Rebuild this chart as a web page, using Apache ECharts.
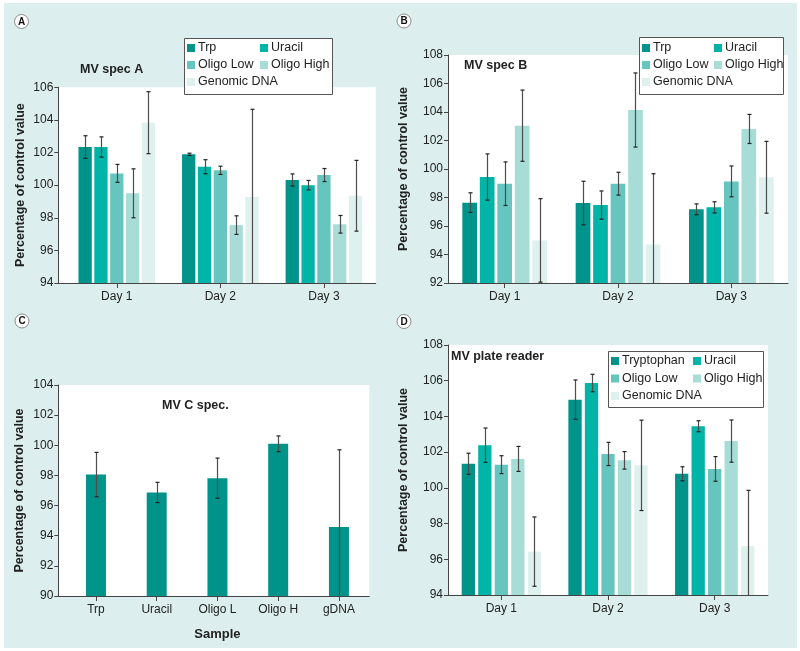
<!DOCTYPE html>
<html><head><meta charset="utf-8">
<script src="https://cdn.jsdelivr.net/npm/echarts@6/dist/echarts.min.js"></script>
<style>html,body{margin:0;padding:0;background:#fff}#c{width:800px;height:651px}</style>
</head><body><div id="c"></div>
<script>
// ---------- data ----------
var days = ['Day 1', 'Day 2', 'Day 3'];
var samplesC = ['Trp', 'Uracil', 'Oligo L', 'Oligo H', 'gDNA'];
var namesAB = ['Trp', 'Uracil', 'Oligo Low', 'Oligo High', 'Genomic DNA'];
var namesD = ['Tryptophan', 'Uracil', 'Oligo Low', 'Oligo High', 'Genomic DNA'];
var colors = ['#00938a', '#00b4a7', '#66c6bf', '#a8dcd7', '#dff1ef'];

// Panel A: MV spec A (mean, error)
var A_trp = [102.34, 101.89, 100.32],  A_trp_err = [0.69, 0.07, 0.37];
var A_ura = [102.34, 101.13, 100.00],  A_ura_err = [0.62, 0.43, 0.29];
var A_olo = [100.72, 100.91, 100.62],  A_olo_err = [0.55, 0.25, 0.40];
var A_ohi = [99.50, 97.55, 97.60],     A_ohi_err = [1.50, 0.57, 0.54];
var A_gen = [103.83, 99.27, 99.35],    A_gen_err = [1.90, 5.38, 2.17];

// Panel B: MV spec B
var B_trp = [97.64, 97.61, 97.17],     B_trp_err = [0.69, 1.53, 0.38];
var B_ura = [99.44, 97.47, 97.31],     B_ura_err = [1.62, 0.99, 0.39];
var B_olo = [98.97, 98.97, 99.13],     B_olo_err = [1.53, 0.80, 1.08];
var B_ohi = [103.04, 104.14, 102.81],  B_ohi_err = [2.50, 2.60, 1.02];
var B_gen = [94.99, 94.71, 99.42],     B_gen_err = [2.93, 4.96, 2.52];

// Panel C: MV C spec.
var C_val = [98.06, 96.87, 97.82, 100.10, 94.58];
var C_err = [1.47, 0.67, 1.33, 0.52, 5.12];

// Panel D: MV plate reader
var D_trp = [101.35, 104.94, 100.79],  D_trp_err = [0.59, 1.10, 0.39];
var D_ura = [102.39, 105.87, 103.45],  D_ura_err = [0.96, 0.49, 0.31];
var D_olo = [101.30, 101.90, 101.06],  D_olo_err = [0.50, 0.65, 0.69];
var D_ohi = [101.62, 101.54, 102.62],  D_ohi_err = [0.70, 0.49, 1.18];
var D_gen = [96.43, 101.26, 96.74],    D_gen_err = [1.94, 2.53, 3.12];

// ---------- build ----------
var FONT = 'Liberation Sans, Arial, Helvetica, sans-serif';
var AXC = '#444';
var TXT = '#222';

function errData(vals, errs) {
  return vals.map(function (v, i) { return [i, v - errs[i], v + errs[i]]; });
}
function errRender(bw, gapRatio, n, idx) {
  return function (params, api) {
    var c = api.value(0), lo = api.value(1), hi = api.value(2);
    var pH = api.coord([c, hi]), pL = api.coord([c, lo]);
    var off = (idx - (n - 1) / 2) * bw * (1 + gapRatio);
    var x = Math.round(pH[0] + off) + 0.5;
    var cs = params.coordSys;
    var top = cs.y, bottom = cs.y + cs.height;
    var yH = Math.max(pH[1], top), yL = Math.min(pL[1], bottom);
    var st = { stroke: '#4d4d4d', lineWidth: 1.2 };
    var ch = [{ type: 'line', shape: { x1: x, y1: yH, x2: x, y2: yL }, style: st }];
    var cw = 2;
    if (pH[1] >= top) ch.push({ type: 'line', shape: { x1: x - cw, y1: yH, x2: x + cw, y2: yH }, style: { stroke: '#222', lineWidth: 1.2 } });
    if (pL[1] <= bottom) ch.push({ type: 'line', shape: { x1: x - cw, y1: yL, x2: x + cw, y2: yL }, style: { stroke: '#222', lineWidth: 1.2 } });
    return { type: 'group', children: ch };
  };
}

var grids = [
  { left: 58.3, top: 87.3, width: 317.4, height: 195.7, show: true, backgroundColor: '#fff', borderWidth: 0 }, // A back
  { left: 65, top: 87.3, width: 310.7, height: 195.7 },                                                       // A front
  { left: 448, top: 55, width: 340, height: 228, show: true, backgroundColor: '#fff', borderWidth: 0 },        // B
  { left: 58.3, top: 385, width: 311, height: 211, show: true, backgroundColor: '#fff', borderWidth: 0 },      // C back
  { left: 65.6, top: 385, width: 303.7, height: 211 },                                                        // C front
  { left: 448, top: 345, width: 320, height: 250, show: true, backgroundColor: '#fff', borderWidth: 0 }        // D
];

function catAxis(gi, data, showLine, showLabels) {
  return {
    type: 'category', gridIndex: gi, data: data,
    axisLine: { show: showLine, lineStyle: { color: AXC, width: 1 } },
    axisTick: { show: showLabels, alignWithLabel: true, length: 5, lineStyle: { color: AXC } },
    axisLabel: { show: showLabels, color: TXT, fontSize: 12, fontFamily: FONT, margin: 8 },
    splitLine: { show: false }
  };
}
function valAxis(gi, min, max, show, nameGap) {
  return {
    type: 'value', gridIndex: gi, min: min, max: max, interval: 2, show: show,
    name: show ? 'Percentage of control value' : '',
    nameLocation: 'middle', nameGap: nameGap,
    nameTextStyle: { fontSize: 12.5, fontWeight: 'bold', color: TXT, fontFamily: FONT },
    axisLine: { show: true, lineStyle: { color: AXC, width: 1 } },
    axisTick: { show: true, length: 4, lineStyle: { color: AXC } },
    axisLabel: { color: TXT, fontSize: 12, fontFamily: FONT, margin: 5 },
    splitLine: { show: false }
  };
}

var xAxes = [
  catAxis(0, [''], true, false),
  catAxis(1, days, false, true),
  catAxis(2, days, true, true),
  catAxis(3, [''], true, false),
  catAxis(4, samplesC, false, true),
  catAxis(5, days, true, true)
];
xAxes[4].name = 'Sample';
xAxes[4].nameLocation = 'middle';
xAxes[4].nameGap = 32;
xAxes[4].nameTextStyle = { fontSize: 13, fontWeight: 'bold', color: TXT, fontFamily: FONT };

var yAxes = [
  valAxis(0, 94, 106, true, 31),
  valAxis(1, 94, 106, false, 0),
  valAxis(2, 92, 108, true, 38),
  valAxis(3, 90, 104, true, 32),
  valAxis(4, 90, 104, false, 0),
  valAxis(5, 94, 108, true, 38)
];

var series = [];
function addPanel(axisIdx, names, vals, errs, bw, gap) {
  var n = vals.length;
  for (var i = 0; i < n; i++) {
    series.push({
      type: 'bar', name: names[i], xAxisIndex: axisIdx, yAxisIndex: axisIdx,
      data: vals[i], barWidth: bw, barGap: (gap * 100) + '%',
      itemStyle: { color: colors[i] }, z: 2
    });
  }
  for (var j = 0; j < n; j++) {
    series.push({
      type: 'custom', name: 'err' + axisIdx + '_' + j, xAxisIndex: axisIdx, yAxisIndex: axisIdx,
      data: errData(vals[j], errs[j]), renderItem: errRender(bw, gap, n, j), z: 3, silent: true
    });
  }
}
addPanel(1, namesAB, [A_trp, A_ura, A_olo, A_ohi, A_gen], [A_trp_err, A_ura_err, A_olo_err, A_ohi_err, A_gen_err], 13.3, 0.19);
addPanel(2, namesAB, [B_trp, B_ura, B_olo, B_ohi, B_gen], [B_trp_err, B_ura_err, B_olo_err, B_ohi_err, B_gen_err], 14.7, 0.19);
addPanel(5, namesD, [D_trp, D_ura, D_olo, D_ohi, D_gen], [D_trp_err, D_ura_err, D_olo_err, D_ohi_err, D_gen_err], 13.3, 0.24);
series.push({
  type: 'bar', name: 'MV C spec.', xAxisIndex: 4, yAxisIndex: 4, data: C_val, barWidth: 20,
  itemStyle: { color: colors[0] }, z: 2
});
series.push({
  type: 'custom', name: 'errC', xAxisIndex: 4, yAxisIndex: 4,
  data: errData(C_val, C_err), renderItem: errRender(20, 0, 1, 0), z: 3, silent: true
});

function legend(data, left, top, gapV) {
  return {
    data: data, orient: 'vertical', left: left, top: top, padding: 0,
    itemWidth: 8, itemHeight: 8, itemGap: gapV, icon: 'rect', z: 7,
    selectedMode: false,
    textStyle: { fontSize: 12.5, color: TXT, fontFamily: FONT, lineHeight: 15, padding: [0, 0, 0, -2] }
  };
}
var legends = [
  legend(['Trp', 'Oligo Low', 'Genomic DNA'], 187, 40.5, 2),
  legend(['Uracil', 'Oligo High'], 260, 40.5, 2),
  legend(['Trp', 'Oligo Low', 'Genomic DNA'], 642, 40.5, 2),
  legend(['Uracil', 'Oligo High'], 714, 40.5, 2),
  legend(['Tryptophan', 'Oligo Low', 'Genomic DNA'], 611, 353.5, 2.5),
  legend(['Uracil', 'Oligo High'], 693, 353.5, 2.5)
];

function tt(text, left, top) {
  return { text: text, left: left, top: top, padding: 0,
    textStyle: { fontSize: 12.5, fontWeight: 'bold', color: TXT, fontFamily: FONT } };
}
var titles = [
  tt('MV spec A', 80, 63),
  tt('MV spec B', 464, 59),
  tt('MV C spec.', 162, 399),
  tt('MV plate reader', 451, 350)
];

function badge(letter, cx, cy) {
  return { type: 'group', z: 1, children: [
    { type: 'circle', shape: { cx: cx, cy: cy, r: 7 }, style: { fill: '#fff', stroke: '#8a8a8a', lineWidth: 1 } },
    { type: 'text', x: cx, y: cy + 0.5, style: { text: letter, fill: '#111', font: 'bold 10px ' + FONT, align: 'center', verticalAlign: 'middle' } }
  ] };
}
var graphics = [
  { type: 'rect', z: -10, silent: true, shape: { x: 4, y: 3, width: 793, height: 645 }, style: { fill: '#dcefee' } },
  { type: 'rect', z: 5, shape: { x: 184.5, y: 38.5, width: 148, height: 56 }, style: { fill: '#fff', stroke: '#555', lineWidth: 1 } },
  { type: 'rect', z: 5, shape: { x: 639.5, y: 37.5, width: 144, height: 57 }, style: { fill: '#fff', stroke: '#555', lineWidth: 1 } },
  { type: 'rect', z: 5, shape: { x: 608.5, y: 351.5, width: 155, height: 56 }, style: { fill: '#fff', stroke: '#555', lineWidth: 1 } },
  badge('A', 21.5, 21.5), badge('B', 404, 21), badge('C', 22, 321), badge('D', 404, 321.5)
];

var chart = echarts.init(document.getElementById('c'), null, { renderer: 'canvas' });
chart.setOption({
  animation: false,
  backgroundColor: '#fff',
  textStyle: { fontFamily: FONT },
  title: titles,
  legend: legends,
  grid: grids,
  xAxis: xAxes,
  yAxis: yAxes,
  series: series,
  graphic: { elements: graphics }
});
</script></body></html>
